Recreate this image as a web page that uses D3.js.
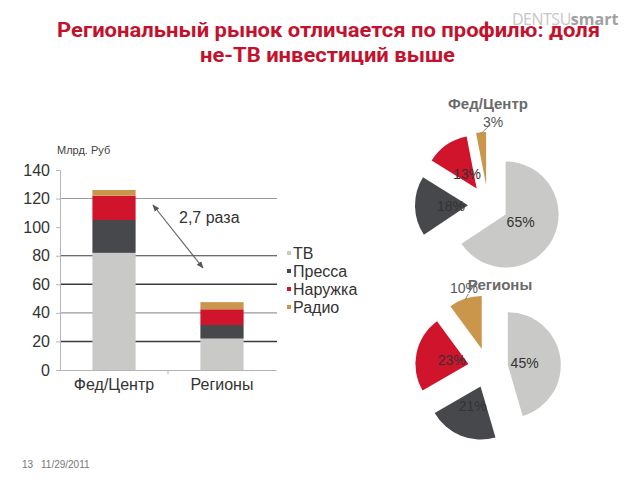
<!DOCTYPE html>
<html><head><meta charset="utf-8">
<script src="https://cdn.jsdelivr.net/npm/d3@7/dist/d3.min.js"></script>
<style>body{margin:0;background:#fff}svg{display:block}</style>
</head><body>
<svg id="c" width="640" height="480"></svg>
<script>
const categories = ["Фед/Центр", "Регионы"];
const seriesNames = ["ТВ", "Пресса", "Наружка", "Радио"];
const tvValues = [82, 22];
const pressValues = [23, 9.5];
const outdoorValues = [17, 11];
const radioValues = [4, 5];
const yTicks = [0, 20, 40, 60, 80, 100, 120, 140];
const gridTicks = [20, 40, 60, 80, 120];
const fedShares = [65, 18, 13, 3];
const regShares = [45, 21, 23, 10];
const colors = ["#c9c9c7", "#47484c", "#d0142c", "#c9964b"];

const svg = d3.select("#c");
const font = "'Liberation Sans', Arial, sans-serif";

// Title
const title = svg.append("g").attr("font-family", "Roboto, 'Open Sans', sans-serif").attr("font-weight", "bold").attr("fill", "#c3122d").attr("font-size", 20);
title.append("text").attr("x", 57).attr("y", 37).attr("textLength", 543).attr("lengthAdjust", "spacingAndGlyphs").text("Региональный рынок отличается по профилю: доля");
title.append("text").attr("x", 200).attr("y", 62).attr("textLength", 255).attr("lengthAdjust", "spacingAndGlyphs").text("не-ТВ инвестиций выше");

// Logo
const logo = svg.append("text").attr("x", 512).attr("y", 25).attr("font-family", "'Open Sans', sans-serif").attr("font-size", 16);
logo.append("tspan").attr("fill", "#c8c8c8").attr("letter-spacing", -0.5).text("DENTSU");
logo.append("tspan").attr("fill", "#a0a0a0").attr("font-weight", "bold").text("smart");

// Bar chart
const x = d3.scaleBand().domain(categories).range([60, 276]).paddingInner(0.6).paddingOuter(0.3);
const y = d3.scaleLinear().domain([0, 140]).range([370, 170]);

const grid = svg.append("g");
grid.selectAll("line").data(gridTicks).join("line")
  .attr("x1", 60).attr("x2", 277)
  .attr("y1", d => y(d)).attr("y2", d => y(d))
  .attr("stroke", d => (d === 20 || d === 60 || d === 80) ? "#3a3a3a" : "#9a9a9a")
  .attr("stroke-width", d => (d === 20 || d === 60) ? 1.6 : 1.1);

const yAxis = svg.append("g").attr("transform", "translate(60,0)")
  .call(d3.axisLeft(y).tickValues(yTicks).tickSize(4).tickPadding(6));
yAxis.select(".domain").attr("stroke", "#b5b5b5");
yAxis.selectAll(".tick line").attr("stroke", "#b5b5b5");
yAxis.selectAll("text").attr("font-family", font).attr("font-size", 16).attr("fill", "#333");

const xAxis = svg.append("g").attr("transform", "translate(0,370)")
  .call(d3.axisBottom(x).tickSize(0).tickPadding(9));
xAxis.select(".domain").attr("stroke", "#b5b5b5");
xAxis.selectAll("text").attr("font-family", font).attr("font-size", 16).attr("fill", "#333");
xAxis.append("line").attr("x1", (x(categories[0]) + x(categories[1]) + x.bandwidth()) / 2)
  .attr("x2", (x(categories[0]) + x(categories[1]) + x.bandwidth()) / 2)
  .attr("y1", 0).attr("y2", 4).attr("stroke", "#b5b5b5");

const table = categories.map((c, i) => ({cat: c, "ТВ": tvValues[i], "Пресса": pressValues[i], "Наружка": outdoorValues[i], "Радио": radioValues[i]}));
const stack = d3.stack().keys(seriesNames)(table);
svg.append("g").selectAll("g").data(stack).join("g")
  .attr("fill", (d, i) => colors[i])
  .selectAll("rect").data(d => d).join("rect")
  .attr("x", d => x(d.data.cat)).attr("width", x.bandwidth())
  .attr("y", d => y(d[1])).attr("height", d => y(d[0]) - y(d[1]));

svg.append("text").attr("x", 57).attr("y", 154).attr("font-family", font).attr("font-size", 11).attr("fill", "#444").text("Млрд. Руб");

// Arrow
const defs = svg.append("defs");
defs.append("marker").attr("id", "ah").attr("viewBox", "0 0 10 10").attr("refX", 9).attr("refY", 5)
  .attr("markerWidth", 6).attr("markerHeight", 6).attr("orient", "auto-start-reverse")
  .append("path").attr("d", "M0,1 L10,5 L0,9 z").attr("fill", "#555");
svg.append("line").attr("x1", 153).attr("y1", 205).attr("x2", 203).attr("y2", 268)
  .attr("stroke", "#666").attr("stroke-width", 1.2)
  .attr("marker-start", "url(#ah)").attr("marker-end", "url(#ah)");
svg.append("text").attr("x", 179).attr("y", 223).attr("font-family", font).attr("font-size", 16).attr("fill", "#333").text("2,7 раза");

// Legend
const leg = svg.append("g").attr("transform", "translate(287,253)");
seriesNames.forEach((n, i) => {
  const g = leg.append("g").attr("transform", `translate(0,${i * 18})`);
  g.append("rect").attr("x", 0).attr("y", -2).attr("width", 4).attr("height", 4).attr("fill", colors[i]);
  g.append("text").attr("x", 6).attr("y", 0).attr("dy", "0.35em").attr("font-family", font).attr("font-size", 16).attr("fill", "#333").text(n);
});

// Pies
function drawPie(cx, cy, shares, titleText, tx, ty, outsideIdx, outsideLabel) {
  const r = 53, off = 20;
  const pie = d3.pie().sort(null).value(d => d)(shares);
  const arc = d3.arc().innerRadius(0).outerRadius(r);
  const g = svg.append("g").attr("transform", `translate(${cx},${cy})`);
  pie.forEach((p, i) => {
    const m = (p.startAngle + p.endAngle) / 2;
    const dx = Math.sin(m), dy = -Math.cos(m);
    g.append("path").attr("d", arc(p)).attr("fill", colors[i])
      .attr("transform", `translate(${dx * off},${dy * off})`);
    if (i !== outsideIdx) {
      const lr = i === 1 && shares === regShares ? 41 : 37;
      g.append("text").attr("x", dx * lr).attr("y", dy * lr).attr("dy", "0.35em")
        .attr("text-anchor", "middle").attr("font-family", font).attr("font-size", 14).attr("fill", "#333")
        .text(shares[i] + "%");
    }
  });
  const p = pie[outsideIdx];
  const m = (p.startAngle + p.endAngle) / 2;
  const dx = Math.sin(m), dy = -Math.cos(m);
  const ex = dx * (off + r - 1), ey = dy * (off + r - 1);
  g.append("line").attr("x1", ex).attr("y1", ey).attr("x2", outsideLabel[0]).attr("y2", outsideLabel[1])
    .attr("stroke", "#777").attr("stroke-width", 0.8);
  g.append("text").attr("x", outsideLabel[2]).attr("y", outsideLabel[3]).attr("dy", "0.35em")
    .attr("text-anchor", "middle").attr("font-family", font).attr("font-size", 14).attr("fill", "#555")
    .text(shares[outsideIdx] + "%");
  svg.append("text").attr("x", tx).attr("y", ty).attr("text-anchor", "middle")
    .attr("font-family", font).attr("font-weight", "bold").attr("font-size", 15).attr("fill", "#6a6a6a")
    .text(titleText);
}
drawPie(488, 205, fedShares, "Фед/Центр", 488, 109, 3, [0, -78, 5, -83]);
drawPie(488, 368, regShares, "Регионы", 500, 290, 3, [-20, -74, -24, -80]);

// Footer
svg.append("text").attr("x", 22).attr("y", 468).attr("font-family", font).attr("font-size", 10).attr("fill", "#777").text("13");
svg.append("text").attr("x", 41).attr("y", 468).attr("font-family", font).attr("font-size", 10).attr("fill", "#777").text("11/29/2011");
</script>
</body></html>
